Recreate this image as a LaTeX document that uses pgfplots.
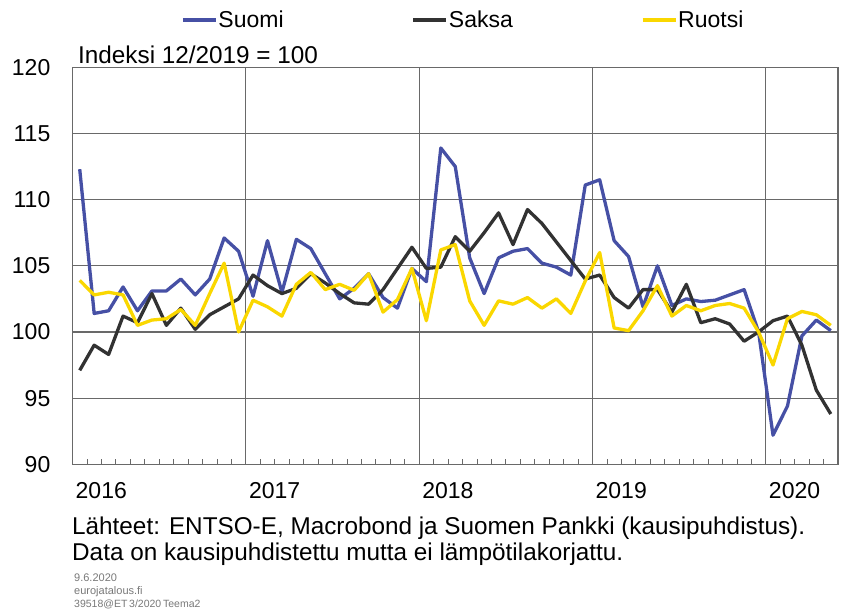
\documentclass[border=0pt]{standalone}
\usepackage{fontspec}
\setmainfont{Liberation Sans}
\usepackage{pgfplots}
\usepackage{pgfplotstable}
\pgfplotsset{compat=1.18}
\definecolor{suomi}{RGB}{70,80,165}
\definecolor{saksa}{RGB}{50,50,50}
\definecolor{ruotsi}{RGB}{250,215,0}
\definecolor{gridc}{RGB}{105,105,105}
\definecolor{smallc}{RGB}{120,120,120}

\pgfplotstableread{
m S D R
0 112.3 97.1 103.9
1 101.4 99.0 102.8
2 101.6 98.3 103.0
3 103.4 101.2 102.8
4 101.6 100.7 100.5
5 103.1 102.9 100.9
6 103.1 100.5 101.0
7 104.0 101.8 101.7
8 102.8 100.2 100.5
9 104.0 101.3 102.9
10 107.1 101.9 105.2
11 106.1 102.5 100.0
12 102.7 104.3 102.4
13 106.9 103.5 101.9
14 103.0 102.9 101.2
15 107.0 103.3 103.6
16 106.3 104.4 104.5
17 104.4 103.7 103.2
18 102.5 102.9 103.6
19 103.3 102.2 103.15
20 104.4 102.1 104.4
21 102.6 103.2 101.5
22 101.8 104.8 102.45
23 104.8 106.4 104.8
24 103.8 104.8 100.85
25 113.9 104.9 106.2
26 112.5 107.2 106.6
27 105.6 106.1 102.35
28 102.9 107.5 100.5
29 105.6 109.0 102.35
30 106.1 106.6 102.1
31 106.3 109.25 102.6
32 105.2 108.2 101.8
33 104.9 106.8 102.5
34 104.3 105.4 101.4
35 111.1 104.0 103.85
36 111.5 104.3 106.0
37 106.9 102.6 100.3
38 105.7 101.8 100.1
39 101.9 103.2 101.6
40 105.0 103.2 103.5
41 102.0 101.5 101.2
42 102.5 103.6 102.0
43 102.3 100.7 101.6
44 102.4 101.0 102.0
45 102.8 100.6 102.15
46 103.2 99.3 101.8
47 100.0 100.0 100.0
48 92.2 100.85 97.5
49 94.4 101.2 101.0
50 99.7 99.0 101.55
51 100.9 95.6 101.3
52 100.1 93.8 100.5
}\data

\begin{document}
\begin{tikzpicture}
\useasboundingbox (0,0) rectangle (842pt,612pt);
\begin{axis}[
  at={(72.5pt,147.7pt)}, anchor=south west,
  scale only axis, width=765.5pt, height=397pt,
  xmin=0, xmax=53, ymin=90, ymax=120,
  clip mode=individual,
  ytick={90,95,100,105,110,115,120},
  xtick={0,12,24,36,48},
  xticklabels={2016,2017,2018,2019,2020},
  minor xtick={1,2,3,4,5,6,7,8,9,10,11,13,14,15,16,17,18,19,20,21,22,23,25,26,27,28,29,30,31,32,33,34,35,37,38,39,40,41,42,43,44,45,46,47,49,50,51,52},
  xtick pos=bottom, ytick pos=left,
  tick align=inside,
  major tick length=0pt,
  minor tick length=5pt,
  minor tick style={gridc, line width=0.8pt},
  xmajorgrids, ymajorgrids,
  major grid style={gridc, line width=1.1pt},
  axis line style={gridc, line width=1.2pt},
  tick label style={font=\fontsize{23}{27}\selectfont, /pgf/number format/assume math mode=true},
  yticklabel style={anchor=east, inner sep=0pt, xshift=-22pt},
  xticklabel style={anchor=north west, inner sep=0pt, xshift=3pt, yshift=-18pt},
  legend columns=3,
  legend style={at={(0.1417,1.119)}, anchor=west, draw=none, fill=none, inner sep=0pt,
    font=\fontsize{23}{27}\selectfont,
    /tikz/every even column/.append style={column sep=127pt},
    nodes={inner sep=1pt}},
  legend image code/.code={\draw[#1] (0pt,0pt) -- (33pt,0pt);},
  every axis plot/.append style={line width=3.3pt, line join=round},
]
\addplot[suomi] table[x expr=\thisrow{m}+0.5, y=S] {\data};
\addlegendentry{Suomi}
\addplot[saksa] table[x expr=\thisrow{m}+0.5, y=D] {\data};
\addlegendentry{Saksa}
\addplot[ruotsi] table[x expr=\thisrow{m}+0.5, y=R] {\data};
\addlegendentry{Ruotsi}
\node[anchor=base west, inner sep=0pt, font=\fontsize{24.3}{28}\selectfont] at (rel axis cs:0,1) [xshift=5.5pt, yshift=3.5pt] {Indeksi 12/2019 = 100};
\end{axis}
\node[anchor=base west, inner sep=0pt, font=\fontsize{24.3}{28}\selectfont] at (72pt,77pt) {Lähteet: ENTSO-E, Macrobond ja Suomen Pankki (kausipuhdistus).};
\node[anchor=base west, inner sep=0pt, font=\fontsize{24.3}{28}\selectfont] at (72pt,51pt) {Data on kausipuhdistettu mutta ei lämpötilakorjattu.};
\node[anchor=base west, inner sep=0pt, text=smallc, font=\fontsize{11}{13}\selectfont] at (74pt,30pt) {9.6.2020};
\node[anchor=base west, inner sep=0pt, text=smallc, font=\fontsize{11}{13}\selectfont] at (74pt,17pt) {eurojatalous.fi};
\node[anchor=base west, inner sep=0pt, text=smallc, font=\fontsize{10.5}{13}\selectfont] at (74pt,4pt) {39518@ET\,3/2020\,Teema2};
\end{tikzpicture}
\end{document}
